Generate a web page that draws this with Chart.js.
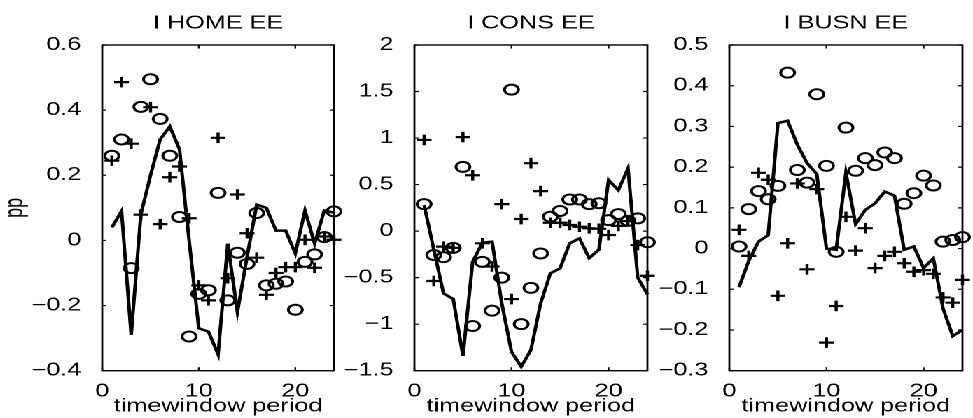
<!DOCTYPE html>
<html>
<head>
<meta charset="utf-8">
<script src="https://cdn.jsdelivr.net/npm/chart.js@4.4.0/dist/chart.umd.min.js"></script>
<style>
    html, body { margin: 0; padding: 0; background: #fff; overflow: hidden; }
    /* the reference figure is stretched sideways, so the whole strip is drawn narrow and scaled */
    #strip { position: absolute; left: 0; top: 0; width: 695px; height: 418px; transform: scaleX(1.4); transform-origin: 0 0; }
    #strip canvas { position: absolute; top: 0; }
</style>
</head>
<body>
<div id="strip">
    <canvas id="homeChart" width="246" height="418" style="left: 0px;"></canvas>
    <canvas id="consChart" width="229" height="418" style="left: 241.4px;"></canvas>
    <canvas id="busnChart" width="229" height="418" style="left: 465.9px;"></canvas>
</div>
<script>
// timewindow periods shared by all panels
const periods = [1, 2, 3, 4, 5, 6, 7, 8, 9, 10, 11, 12, 13, 14, 15, 16, 17, 18, 19, 20, 21, 22, 23, 24];
const xTicks = [0, 10, 20];

// I HOME EE
const homeLine = [0.04, 0.09, -0.29, 0.08, 0.2, 0.31, 0.35, 0.28, 0.0, -0.27, -0.28, -0.35, -0.01, -0.22, -0.05, 0.11, 0.1, 0.03, 0.03, -0.04, 0.092, -0.01, 0.092, 0.085];
const homeCircles = [0.26, 0.31, -0.085, 0.41, 0.495, 0.373, 0.26, 0.072, -0.295, -0.164, -0.153, 0.146, -0.184, -0.038, -0.072, 0.084, -0.138, -0.133, -0.126, -0.213, -0.066, -0.043, 0.01, 0.089];
const homePluses = [0.245, 0.486, 0.297, 0.079, 0.409, 0.05, 0.194, 0.227, 0.068, -0.138, -0.184, 0.315, -0.116, 0.141, 0.022, -0.053, -0.167, -0.1, -0.082, -0.082, 0.002, -0.084, 0.012, 0.002];
const homeTicks = [-0.4, -0.2, 0, 0.2, 0.4, 0.6];
const homeTickLabels = ['\u22120.4', '\u22120.2', '0', '0.2', '0.4', '0.6'];

// I CONS EE
const consLine = [0.28, -0.2, -0.67, -0.73, -1.34, -0.33, -0.125, -0.114, -0.776, -1.296, -1.457, -1.278, -0.776, -0.454, -0.4, -0.131, -0.078, -0.29, -0.2, 0.55, 0.44, 0.675, -0.5, -0.68];
const consCircles = [0.29, -0.257, -0.28, -0.18, 0.69, -1.02, -0.33, -0.855, -0.5, 1.52, -1.0, -0.61, -0.24, 0.155, 0.216, 0.34, 0.34, 0.29, 0.3, 0.118, 0.183, 0.11, 0.137, -0.12];
const consPluses = [0.98, -0.536, -0.167, -0.18, 1.01, 0.6, -0.131, -0.38, 0.29, -0.73, 0.13, 0.73, 0.43, 0.09, 0.09, 0.066, 0.047, 0.03, 0.025, -0.042, 0.056, 0.108, -0.15, -0.48];
const consTicks = [-1.5, -1, -0.5, 0, 0.5, 1, 1.5, 2];
const consTickLabels = ['\u22121.5', '\u22121', '\u22120.5', '0', '0.5', '1', '1.5', '2'];

// I BUSN EE
const busnLine = [-0.095, -0.03, 0.017, 0.033, 0.308, 0.314, 0.255, 0.21, 0.183, 0.0, -0.003, 0.186, 0.06, 0.095, 0.111, 0.14, 0.13, -0.003, 0.005, -0.048, -0.024, -0.147, -0.215, -0.2];
const busnCircles = [0.005, 0.097, 0.141, 0.121, 0.154, 0.432, 0.193, 0.162, 0.379, 0.203, -0.008, 0.297, 0.191, 0.222, 0.205, 0.236, 0.222, 0.11, 0.136, 0.179, 0.155, 0.017, 0.021, 0.028];
const busnPluses = [0.046, -0.018, 0.186, 0.169, -0.116, 0.013, 0.16, -0.051, 0.146, -0.231, -0.141, 0.078, -0.005, 0.05, -0.048, -0.018, -0.008, -0.036, -0.057, -0.053, -0.062, -0.12, -0.133, -0.077];
const busnTicks = [-0.3, -0.2, -0.1, 0, 0.1, 0.2, 0.3, 0.4, 0.5];
const busnTickLabels = ['\u22120.3', '\u22120.2', '\u22120.1', '0', '0.1', '0.2', '0.3', '0.4', '0.5'];

Chart.defaults.font.family = '"Liberation Sans", Arial, sans-serif';
Chart.defaults.font.size = 18;
Chart.defaults.color = '#000';

// matlab style box with inward ticks on all four sides
const boxPlugin = {
    id: 'matlabBox',
    afterDraw(chart) {
        const { ctx, chartArea: a, scales: { x, y } } = chart;
        ctx.save();
        ctx.strokeStyle = '#000';
        ctx.lineWidth = 1.4;
        ctx.strokeRect(a.left, a.top, a.right - a.left, a.bottom - a.top);
        ctx.lineWidth = 1.2;
        ctx.beginPath();
        x.ticks.forEach(t => {
            const px = x.getPixelForValue(t.value);
            ctx.moveTo(px, a.bottom); ctx.lineTo(px, a.bottom - 3.5);
            ctx.moveTo(px, a.top); ctx.lineTo(px, a.top + 3.5);
        });
        y.ticks.forEach(t => {
            const py = y.getPixelForValue(t.value);
            ctx.moveTo(a.left, py); ctx.lineTo(a.left + 3, py);
            ctx.moveTo(a.right, py); ctx.lineTo(a.right - 3, py);
        });
        ctx.stroke();
        ctx.restore();
    }
};

function toPoints(values) {
    return periods.map((p, i) => ({ x: p, y: values[i] }));
}

function makePanel(canvasId, title, lineVals, circleVals, plusVals, ticks, tickLabels, axisWidth, showYTitle) {
    const ctx = document.getElementById(canvasId).getContext('2d');
    return new Chart(ctx, {
        type: 'line',
        data: {
            datasets: [
                {
                    data: toPoints(lineVals),
                    borderColor: '#000',
                    borderWidth: 2.5,
                    borderJoinStyle: 'miter',
                    pointRadius: 0,
                    tension: 0,
                    clip: false
                },
                {
                    data: toPoints(circleVals),
                    showLine: false,
                    pointStyle: 'circle',
                    pointRadius: 5,
                    pointBorderWidth: 2,
                    pointBorderColor: '#000',
                    pointBackgroundColor: 'rgba(0,0,0,0)',
                    clip: false
                },
                {
                    data: toPoints(plusVals),
                    showLine: false,
                    pointStyle: 'cross',
                    pointRadius: 5.3,
                    pointBorderWidth: 2.2,
                    pointBorderColor: '#000',
                    clip: false
                }
            ]
        },
        options: {
            responsive: false,
            animation: false,
            devicePixelRatio: 2,
            events: [],
            layout: { padding: { left: 0, right: 4, top: 0, bottom: 0 } },
            plugins: {
                legend: { display: false },
                tooltip: { enabled: false },
                title: {
                    display: true,
                    text: title,
                    fullSize: false,
                    font: { size: 18, weight: 'normal' },
                    padding: { top: 12.8, bottom: 10.6 }
                }
            },
            scales: {
                x: {
                    type: 'linear',
                    min: 0,
                    max: 24,
                    afterBuildTicks: scale => { scale.ticks = xTicks.map(v => ({ value: v })); },
                    afterFit: scale => { scale.height = 47.3; },
                    grid: { display: false },
                    border: { display: false },
                    ticks: { padding: 2, maxRotation: 0 },
                    title: { display: true, text: 'timewindow period', padding: { top: 0, bottom: 0.5 } }
                },
                y: {
                    min: ticks[0],
                    max: ticks[ticks.length - 1],
                    afterBuildTicks: scale => { scale.ticks = ticks.map(v => ({ value: v })); },
                    afterFit: scale => { scale.width = axisWidth; },
                    grid: { display: false },
                    border: { display: false },
                    ticks: {
                        padding: 7,
                        callback: value => tickLabels[ticks.indexOf(value)]
                    },
                    title: { display: showYTitle, text: 'pp', padding: { top: 0, bottom: 0 } }
                }
            }
        },
        plugins: [boxPlugin]
    });
}

makePanel('homeChart', 'I HOME EE', homeLine, homeCircles, homePluses, homeTicks, homeTickLabels, 73, true);
makePanel('consChart', 'I CONS EE', consLine, consCircles, consPluses, consTicks, consTickLabels, 55, false);
makePanel('busnChart', 'I BUSN EE', busnLine, busnCircles, busnPluses, busnTicks, busnTickLabels, 55, false);
</script>
</body>
</html>
